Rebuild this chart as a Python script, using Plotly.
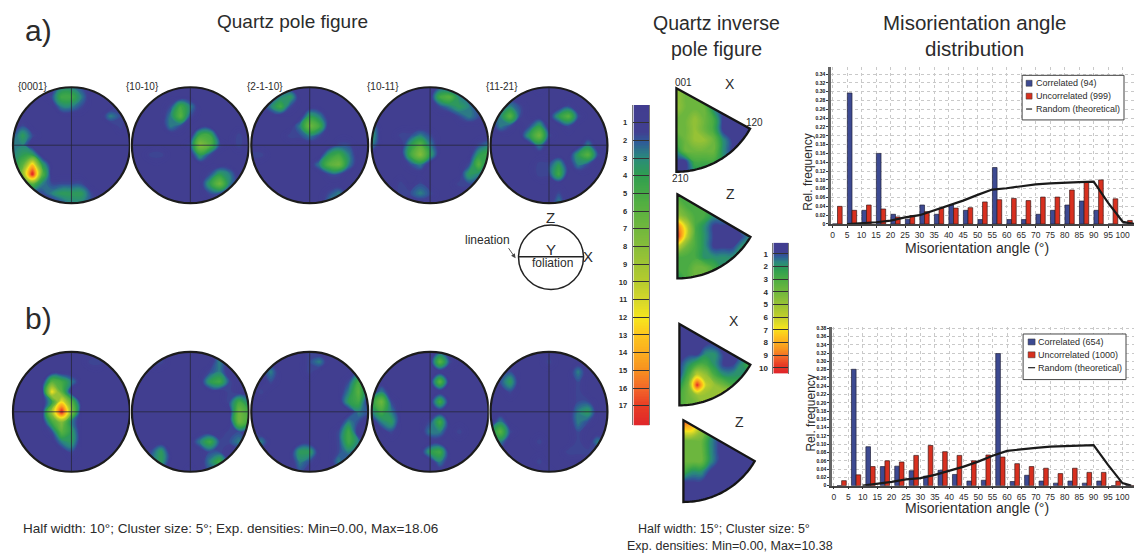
import numpy as np
import plotly.graph_objects as go

W, H = 1135, 558

# Pole figure densities: rows top to bottom, one base-36 digit per cell (a=10 ... i=18)
A_0001 = ["1111133211111","1111255311111","1111133211121","1111111111321","1211111111121","2421111111111","3311111111111","3441111111111","36d4111111111","28i6111111111","1263222211111","1112344421111","1111123321111"]
A_1010 = ["1111111111111","1111111111111","1111253111111","1111362111111","1111321111111","1111111551121","1111112862121","1122111421111","1111111111111","1111111124311","1111111147311","1111111122111","1111111111111"]
A_2110 = ["1111111111111","1113411111111","1135211111111","1111114311111","1111137511111","1111223211111","1111111112211","2211111145311","1111111367311","1111111122111","1111111111111","1111111123111","1111111132111"]
A_1011 = ["1111111211111","1111111563111","1111111234311","1111111112321","3111111111111","4112232111111","3111463111123","1111584111145","1111231111262","1111111111431","1112121112211","1112232111111","1111111111111"]
A_1121 = ["1111121111111","1111111111111","1132111121111","1362111462111","1321241121111","1111472111111","1111131111311","1111111114621","1111122413211","1111122511111","1111111111111","1111111211111","1111111311111"]
B_0001 = ["1111111111111","1111111122111","1111111111111","1111653111111","1111c61111111","11114c6111111","11119i8111111","1111583111111","1111264111111","1111134111111","1111112111111","1111111111111","1111111111111"]
B_1010 = ["1111111112111","1122111113111","1111111123111","1111111145211","1111111111211","1111111111253","1111111111175","1111111111175","1111111111221","1111111352231","1124111122111","1124111135111","1111112121111"]
B_2110 = ["1111112111111","1111112311111","1131112111121","1121111111251","1211111111362","1111111111451","1111111111132","1111111111321","2111111112511","1311111112531","1111144112311","1111132113111","1111121111111"]
B_1011 = ["1111111211111","1111111621111","1111111111111","1111111611111","1311111111111","4721111511111","3531111111111","1341112511111","1121113312111","1111111111111","1111114511111","1111111311111","1111111111111"]
B_1121 = ["1111111111111","1111112111111","1121111113111","1241111112111","1121111112111","1111111112211","1111111113411","1311111113211","3621111112111","1311121112131","1111111122211","1111121111111","1111112111111"]

# Inverse pole figure densities
IPF_A_X = ["544311111","544321111","544421111","445431111","445431111","345542111","244442111","113332111","112211111"]
IPF_A_Z = ["332222222","433322222","543322222","963211122","a63211112","643211122","333222222","334432222","234433222"]
IPF_B_X = ["111111111","111111111","111111111","111221111","123321123","136532222","24a654332","345556622","344555555"]
IPF_B_Z = ["a96311111","775311111","444211111","444211111","444211111","322111111","111111111","111111111","111111111"]

POLE_LABELS = ["{0001}", "{10-10}", "{2-1-10}", "{10-11}", "{11-21}"]

# Misorientation angle distributions
ANGLE_TICKS = list(range(0, 105, 5))
A_BINS = [1.7,6.7,11.7,16.7,21.7,26.7,31.7,36.7,41.7,46.7,51.7,56.7,61.7,66.7,71.7,76.7,81.7,86.7,91.7,96.7,101.7]
A_CORR = [0,.297,.031,.16,.022,.011,.043,.022,.043,.031,.010,.128,.010,.010,.022,.031,.043,.052,.031,0,0]
A_UNCORR = [.040,.031,.043,.034,.016,.019,.028,.036,.036,.037,.050,.055,.058,.053,.061,.061,.077,.095,.100,.057,.008]
A_RAND_X = [5,10,15,20,25,30,35,40,45,50,55,60,65,70,75,80,85,90,95,100,104]
A_RAND_Y = [0,.0015,.004,.0075,.015,.02,.031,.041,.053,.066,.078,.081,.085,.090,.092,.094,.095,.096,.048,.005,0]
B_BINS = [2.7,7.7,12.7,17.7,22.7,27.7,32.7,37.7,42.7,47.7,52.7,57.7,62.7,67.7,72.7,77.7,82.7,87.7,92.7,97.7,102.7]
B_CORR = [0,.281,.094,.046,.047,.036,.023,.037,.027,.011,.013,.319,.010,.025,.011,.006,.011,.006,.011,0,0]
B_UNCORR = [.012,.026,.046,.060,.057,.073,.097,.082,.073,.060,.074,.069,.053,.046,.042,.029,.042,.032,.032,.011,0]
B_RAND_X = [10,15,20,25,30,35,40,45,50,55,60,65,70,75,80,85,90,95,100,103]
B_RAND_Y = [0,.004,.009,.015,.018,.026,.036,.046,.058,.072,.084,.088,.091,.094,.095,.097,.098,.050,.006,0]

SCALE = [[0,"#413d90"],[.085,"#413f91"],[.115,"#2f5a98"],[.165,"#2a8a7c"],[.22,"#2f9e50"],[.3,"#4fae42"],[.44,"#86bd3a"],
         [.55,"#b5cb2d"],[.61,"#d5d72a"],[.667,"#f7e61d"],[.72,"#fdc51d"],[.78,"#fbab1f"],[.83,"#f7901f"],[.89,"#f2642a"],[.94,"#e83d24"],[1,"#e0262a"]]
FONT = "Liberation Sans"
TXT = "#2b2b2b"

fig = go.Figure()
shapes, annos, layout_axes = [], [], {}
n_axes = [0]

def px(x): return x / W
def py(y): return 1 - y / H

def new_axes(x0, x1, y0, y1, xopts, yopts):
    n_axes[0] += 1
    k = n_axes[0]
    sx = "" if k == 1 else str(k)
    layout_axes["xaxis" + sx] = dict(domain=[px(x0), px(x1)], anchor="y" + sx, **xopts)
    layout_axes["yaxis" + sx] = dict(domain=[py(y1), py(y0)], anchor="x" + sx, **yopts)
    return "x" + sx, "y" + sx

def text(x, y, s, size, anchor="center", color=TXT, angle=0):
    annos.append(dict(x=px(x), y=py(y), xref="paper", yref="paper", text=s, showarrow=False, xanchor=anchor,
                      yanchor="middle", textangle=angle, font=dict(family=FONT, size=size, color=color)))

def decode(rows):
    return [[int(c, 36) for c in r] for r in rows]

def poly(pts):
    return "M" + "L".join(f"{a:.3f},{b:.3f}" for a, b in pts) + "Z"

def density(rows, gx, gy, xa, ya, zmax, step):
    fig.add_trace(go.Contour(z=decode(rows), x=gx, y=gy, xaxis=xa, yaxis=ya, zmin=0, zmax=zmax, colorscale=SCALE,
                             showscale=False, hoverinfo="skip",
                             contours=dict(coloring="fill", showlines=False, start=step, end=zmax, size=step),
                             line=dict(width=0, smoothing=1.3)))

def disc(cx, cy, rx, ry, rows):
    m = 1.03
    hidden = dict(visible=False)
    xa, ya = new_axes(cx - rx * m, cx + rx * m, cy - ry * m, cy + ry * m,
                      dict(range=[-m, m], **hidden), dict(range=[m, -m], **hidden))
    g = np.linspace(-1, 1, len(rows))
    density(rows, g, g, xa, ya, 18.06, 0.25)
    t = np.linspace(0, 2 * np.pi, 181)[:-1]
    hole = poly(list(zip(np.cos(t), np.sin(t))))
    outer = poly([(-1.2, -1.2), (1.2, -1.2), (1.2, 1.2), (-1.2, 1.2)])
    shapes.append(dict(type="path", path=outer + hole, xref=xa, yref=ya, fillcolor="white", fillrule="evenodd", line=dict(width=0)))
    for p in ("M-1,0L1,0", "M0,-1L0,1"):
        shapes.append(dict(type="path", path=p, xref=xa, yref=ya, line=dict(color="#26263a", width=0.8)))
    shapes.append(dict(type="circle", x0=-1, x1=1, y0=-1, y1=1, xref=xa, yref=ya, line=dict(color="#1c1c1c", width=2.2)))

def ipf(ax, ay, bx, by_bottom, by_right, rows):
    w, h = bx - ax, by_bottom - ay
    pad = 2
    xa, ya = new_axes(ax - pad, bx + pad, ay - pad, by_bottom + pad,
                      dict(range=[-pad, w + pad], visible=False), dict(range=[h + pad, -pad], visible=False))
    gx, gy = np.linspace(0, w, len(rows[0])), np.linspace(0, h, len(rows))
    density(rows, gx, gy, xa, ya, 10.38, 0.15)
    a0 = np.arctan2(by_right - ay, bx - ax)
    t = np.linspace(a0, np.pi / 2, 40)
    r = (h + np.hypot(w, by_right - ay)) / 2
    sector = [(0, 0)] + list(zip(r * np.cos(t), r * np.sin(t)))
    outer = poly([(-9, -9), (w + 9, -9), (w + 9, h + 9), (-9, h + 9)])
    shapes.append(dict(type="path", path=outer + poly(sector), xref=xa, yref=ya, fillcolor="white", fillrule="evenodd", line=dict(width=0)))
    shapes.append(dict(type="path", path=poly(sector), xref=xa, yref=ya, line=dict(color="#151515", width=2.3)))

def colorbar(x0, x1, y0, y1, lo, hi, ticks, zmax, size):
    xa, ya = new_axes(x0, x1, y0, y1, dict(range=[0, 1], visible=False),
                      dict(range=[hi, lo], tickvals=ticks, ticktext=[f"<b>{v}</b>" for v in ticks], ticks="inside",
                           ticklen=x1 - x0, tickcolor="#333333", tickwidth=1, showgrid=False, zeroline=False,
                           ticklabelstandoff=3 if size > 7.5 else 4, tickfont=dict(family=FONT, size=size, color=TXT),
                           showline=True, linecolor="#777777", linewidth=0.5, mirror=True))
    v = np.linspace(lo, hi, 200)
    fig.add_trace(go.Heatmap(z=[[a] for a in v], x=[0.5], y=v, xaxis=xa, yaxis=ya, zmin=0, zmax=zmax,
                             colorscale=SCALE, showscale=False, hoverinfo="skip"))

def bars(x0, x1, y0, y1, xrange, top, ticks_top, bins, corr, uncorr, rx, ry):
    tv = [round(0.02 * i, 2) for i in range(ticks_top + 1)]
    tt = ["<b>0</b>"] + [f"<b>{v:.2f}</b>" for v in tv[1:]]
    grid = dict(showgrid=True, gridcolor="#c9c9c9", griddash="dot", gridwidth=0.7, zeroline=False)
    xa, ya = new_axes(x0, x1, y0, y1,
                      dict(range=xrange, tickvals=ANGLE_TICKS, ticks="outside", ticklen=2, tickcolor="#333333",
                           tickfont=dict(family=FONT, size=8.5, color=TXT), tickangle=0, showline=True, linecolor="#444444", linewidth=1.5,
                           ticklabelstandoff=0, **grid),
                      dict(range=[0, top], tickvals=tv, ticktext=tt, ticks="outside", ticklen=2, tickcolor="#333333",
                           tickfont=dict(family=FONT, size=5, color="#111111"), showline=True, linecolor="#666666", linewidth=3, **grid))
    fig.add_trace(go.Bar(x=bins, y=corr, width=1.6, offset=-1.6, xaxis=xa, yaxis=ya, name="Correlated",
                         marker=dict(color="#3d4a92", line=dict(color="#23233a", width=0.7))))
    fig.add_trace(go.Bar(x=bins, y=uncorr, width=1.6, offset=0, xaxis=xa, yaxis=ya, name="Uncorrelated",
                         marker=dict(color="#d8301f", line=dict(color="#3b1a1a", width=0.7))))
    fig.add_trace(go.Scatter(x=rx, y=ry, mode="lines", xaxis=xa, yaxis=ya, name="Random (theoretical)",
                             line=dict(color="#1a1a1a", width=2.2)))

def legend_box(x0, x1, y0, y1, sx0, sx1, tx, rows, labels):
    shapes.append(dict(type="rect", xref="paper", yref="paper", x0=px(x0), x1=px(x1), y0=py(y0), y1=py(y1),
                       fillcolor="white", line=dict(color="#444444", width=1)))
    for color, yy in zip(["#3d4a92", "#d8301f"], rows):
        shapes.append(dict(type="rect", xref="paper", yref="paper", x0=px(sx0), x1=px(sx1), y0=py(yy - 3), y1=py(yy + 3),
                           fillcolor=color, line=dict(color="#333333", width=0.5)))
    shapes.append(dict(type="line", xref="paper", yref="paper", x0=px(sx0), x1=px(sx1), y0=py(rows[2]), y1=py(rows[2]),
                       line=dict(color="#222222", width=1.2)))
    for yy, s in zip(rows, labels):
        text(tx, yy, s, 9, "left")

# Pole figures
RX = 58.5
for cx, rows in zip([70.5, 189.5, 309, 429.5, 548.5], [A_0001, A_1010, A_2110, A_1011, A_1121]):
    disc(cx, 144.5, RX, 58.5, rows)
for cx, rows in zip([70.5, 189.5, 309, 429.5, 548.5], [B_0001, B_1010, B_2110, B_1011, B_1121]):
    disc(cx, 413.5, RX, 60.5, rows)
for x, s in zip([32, 142, 264, 382, 501.5], POLE_LABELS):
    text(x, 85, s, 10)

# Inverse pole figures
ipf(676, 87, 750, 171, 128, IPF_A_X)
ipf(677, 194, 750, 279, 237, IPF_A_Z)
ipf(679, 325, 750, 407, 366, IPF_B_X)
ipf(683, 422, 754, 505, 463, IPF_B_Z)

# Colour bars
colorbar(633, 649, 104, 427, 0, 18.1, list(range(1, 18)), 18.06, 7.5)
colorbar(773, 788, 243, 375, 0.14, 10.45, list(range(1, 11)), 10.38, 8)

# Histograms
bars(831, 1134, 66, 224, [-0.45, 103.9], 0.355, 17, A_BINS, A_CORR, A_UNCORR, A_RAND_X, A_RAND_Y)
bars(832, 1134, 328, 488, [-0.55, 104.0], 0.383, 19, B_BINS, B_CORR, B_UNCORR, B_RAND_X, B_RAND_Y)
legend_box(1022, 1124, 74, 119, 1026, 1032, 1034, [82, 95, 108], ["Correlated (94)", "Uncorrelated (999)", "Random (theoretical)"])
legend_box(1023, 1126, 335, 381, 1028, 1035, 1036, [343, 356, 369], ["Correlated (654)", "Uncorrelated (1000)", "Random (theoretical)"])

# Schematic
shapes.append(dict(type="circle", xref="paper", yref="paper", x0=px(518), x1=px(583), y0=py(290), y1=py(225), line=dict(color="#222222", width=1.5)))
shapes.append(dict(type="line", xref="paper", yref="paper", x0=px(518), x1=px(583), y0=py(257), y1=py(257), line=dict(color="#222222", width=1.5)))
annos.append(dict(x=px(515), y=py(258.5), ax=-8, ay=-11.5, xref="paper", yref="paper", text="",
                  showarrow=True, arrowhead=2, arrowsize=1, arrowwidth=0.9, arrowcolor="#444444"))
text(550, 217, "Z", 15)
text(588, 257, "X", 15)
text(550, 250, "Y", 15)
text(552, 263, "foliation", 12)
text(487, 240, "lineation", 12)

# Texts
text(22, 29, "a)", 30, "left")
text(22, 319, "b)", 30, "left")
text(292, 20, "Quartz pole figure", 19)
text(716, 21, "Quartz inverse", 19.5)
text(716, 47, "pole figure", 19.5)
text(974, 21, "Misorientation angle", 20.5)
text(974, 47, "distribution", 20.5)
text(683, 81, "001", 10)
text(754.5, 122, "120", 10)
text(680, 178, "210", 10)
text(730, 83, "X", 14)
text(730, 194, "Z", 14)
text(734, 322, "X", 14)
text(739, 424, "Z", 14)
text(808, 172, "Rel. frequency", 12, angle=-90)
text(811, 415, "Rel. frequency", 12, angle=-90)
text(977, 248, "Misorientation angle (°)", 14)
text(977, 511, "Misorientation angle (°)", 14)
text(20, 531, "Half width: 10°; Cluster size: 5°; Exp. densities: Min=0.00, Max=18.06", 13.5, "left")
text(636, 532, "Half width: 15°; Cluster size: 5°", 12.5, "left")
text(625, 549, "Exp. densities: Min=0.00, Max=10.38", 12.5, "left")

fig.update_layout(width=W, height=H, margin=dict(l=0, r=0, t=0, b=0, pad=0), paper_bgcolor="white", plot_bgcolor="white",
                  barmode="overlay", showlegend=False, shapes=shapes, annotations=annos, **layout_axes)
fig.write_html("out.html", config={"displayModeBar": False},
               post_script="document.body.style.margin='0';document.documentElement.style.overflow='hidden';")
